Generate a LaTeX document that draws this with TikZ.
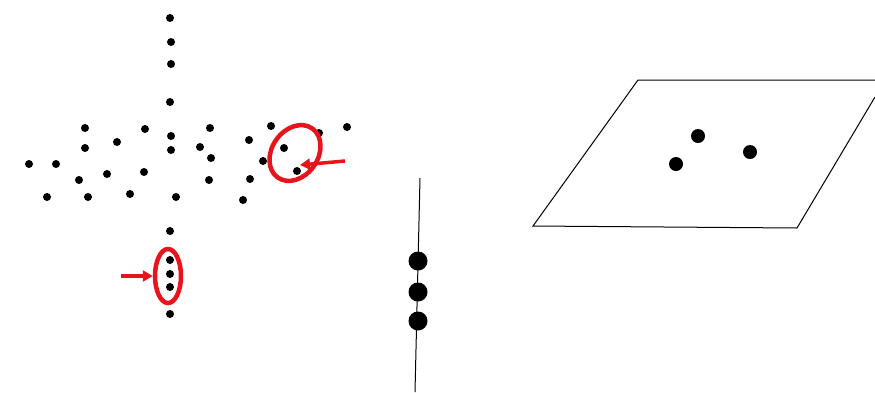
\documentclass[tikz,border=0pt]{standalone}
\usetikzlibrary{arrows.meta, shapes.geometric}
\definecolor{myred}{HTML}{E8141C}

\begin{document}
\begin{tikzpicture}[x=1pt, y=-1pt,
  dot/.style={circle, fill=black, inner sep=0pt, minimum size=8pt},
  bigdot/.style={circle, fill=black, inner sep=0pt, minimum size=19pt},
  planedot/.style={circle, fill=black, inner sep=0pt, minimum size=14pt},
  ring/.style={draw=myred, ellipse, line width=4.5pt, inner sep=0pt},
  arr/.style={-{Triangle[length=10pt,width=11pt]}, myred, line width=3.5pt}
]
\useasboundingbox (0,0) rectangle (875,392);

% scattered dots, left panel
\foreach \x/\y [count=\i] in {170/18, 171/42, 171/64, 170/102,
    85/128, 145/129, 171/136, 210/128, 271/126, 319/133, 347/127,
    117/142, 249/140, 85/148, 171/150, 200/147, 284/148, 211/158,
    29/164, 56/164, 263/161, 79/180, 107/174, 144/172, 209/180,
    250/179, 297/171, 47/197, 88/197, 130/194, 176/197, 243/200,
    170/231, 170/260, 170/274, 170/287, 170/314}
  \node[dot] (d\i) at (\x,\y) {};

\node[ring, minimum width=26pt, minimum height=54pt] (lring) at (168,276) {};
\node[ring, minimum width=60pt, minimum height=46pt, rotate=55] (rring) at (295,153) {};

\coordinate (ltail) at (121,276);
\coordinate (rtail) at (345,161);
\coordinate (rtip) at (300,165);
\draw[arr] (ltail) -- (lring.west);
\draw[arr] (rtail) -- (rtip);

% line with three dots
\coordinate (ltop) at (420,178);
\coordinate (lbot) at (415,392);
\draw[line width=1pt] (ltop) -- (lbot);
\node[bigdot] (m1) at (418,261) {};
\node[bigdot] (m2) at (418,292) {};
\node[bigdot] (m3) at (418,321) {};

% plane with three dots
\coordinate (ptl) at (638,80);
\coordinate (ptr) at (875,80);
\coordinate (prt) at (875,97);
\coordinate (pbr) at (797,228);
\coordinate (pbl) at (533,226);
\draw[line width=1pt] (ptr) -- (ptl) -- (pbl) -- (pbr) -- (prt);
\node[planedot] (p1) at (698,136) {};
\node[planedot] (p2) at (750,152) {};
\node[planedot] (p3) at (676,164) {};
\end{tikzpicture}
\end{document}
